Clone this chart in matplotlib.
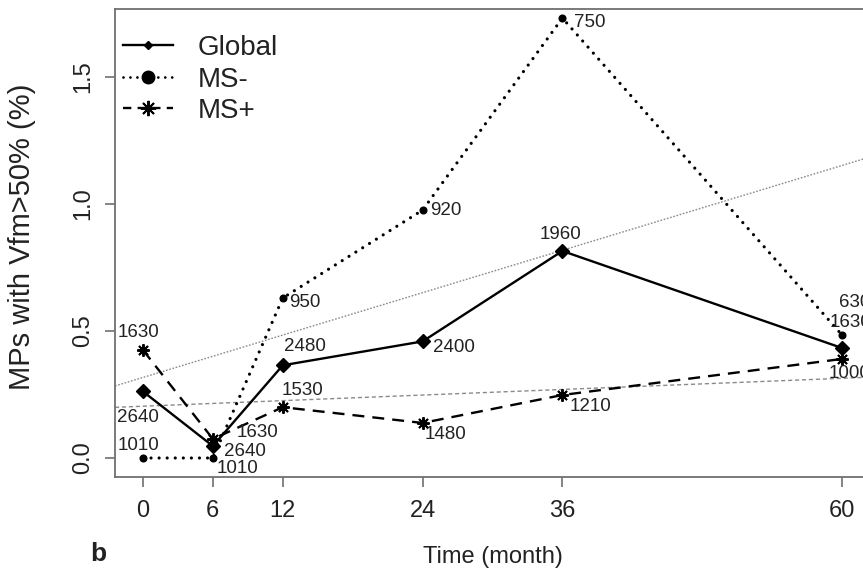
import numpy as np
import matplotlib
matplotlib.use("Agg")
import matplotlib.pyplot as plt
from matplotlib.lines import Line2D

plt.rcParams['font.family'] = ['Liberation Sans', 'DejaVu Sans']
plt.rcParams['lines.scale_dashes'] = False

# ---- data ----
months = [0, 6, 12, 24, 36, 60]
global_pct = [0.262, 0.047, 0.365, 0.459, 0.815, 0.433]
ms_minus_pct = [0.0, 0.0, 0.63, 0.976, 1.732, 0.484]
ms_plus_pct = [0.425, 0.075, 0.20, 0.138, 0.248, 0.39]
global_n = [2640, 2640, 2480, 2400, 1960, 1630]
ms_minus_n = [1010, 1010, 950, 920, 750, 630]
ms_plus_n = [1630, 1630, 1530, 1480, 1210, 1000]
xticks = [0, 6, 12, 24, 36, 60]
yticks = [0.0, 0.5, 1.0, 1.5]

# label offsets (pixels, right / up)
px = 0.72
off_minus = [(-4, 13), (25, -10), (22, -5), (23, 0), (27, -4), (13, 33)]
off_global = [(-5, -26), (32, -5), (22, 19), (31, -6), (-2, 16), (8, 26)]
off_plus = [(-4, 18), (45, 6), (20, 17), (23, -12), (28, -11), (8, -15)]

fig = plt.figure(figsize=(8.63, 5.69), dpi=100)
ax = fig.add_axes([115/863, 92/569, 755/863, 468/569])
ax.set_xlim(-2.4, 62.4)
ax.set_ylim(-0.0748, 1.7677)

txtc = '#222222'
spc = '#707070'

# regression lines
b1, a1 = np.polyfit(months, ms_minus_pct, 1)
b2, a2 = np.polyfit(months, ms_plus_pct, 1)
ax.axline((0, a1), slope=b1, color='#8a8a8a', lw=1.0, linestyle=(0, (1.2, 1.2)), zorder=1)
ax.axline((0, a2), slope=b2, color='#8a8a8a', lw=1.0, linestyle=(0, (3.0, 2.0)), zorder=1)

ax.plot(months, ms_minus_pct, color='black', lw=2.3, linestyle=(0, (0.01, 5.8)),
        dash_capstyle='round', marker='o', ms=4.8, zorder=3)
ax.plot(months, ms_plus_pct, color='black', lw=1.7, linestyle=(0, (8.6, 5.8)),
        marker=(8, 2, 0), ms=9, mew=1.4, zorder=3)
ax.plot(months, global_pct, color='black', lw=1.7, linestyle='-',
        marker='D', ms=7, zorder=4)

fs_lab = 13.5
for xs, ys, ns, offs in [(months, ms_minus_pct, ms_minus_n, off_minus),
                         (months, global_pct, global_n, off_global),
                         (months, ms_plus_pct, ms_plus_n, off_plus)]:
    for x, y, n, (dx, dy) in zip(xs, ys, ns, offs):
        ax.annotate(str(n), (x, y), xytext=(dx*px, dy*px), textcoords='offset points',
                    ha='center', va='center', fontsize=fs_lab, color=txtc, zorder=5,
                    annotation_clip=False)

for s in ['left', 'bottom', 'top', 'right']:
    ax.spines[s].set_color(spc)
    ax.spines[s].set_linewidth(1.3)

ax.set_xticks(xticks)
ax.set_xticklabels([str(t) for t in xticks])
ax.set_yticks(yticks)
ax.set_yticklabels([f"{t:.1f}" for t in yticks])
ax.tick_params(axis='both', direction='out', length=7.2, width=1.2, color=spc,
               labelsize=17, labelcolor=txtc)
ax.tick_params(axis='x', pad=9.5)
ax.tick_params(axis='y', pad=8, labelrotation=90)
for lbl in ax.get_yticklabels():
    lbl.set_va('center')

ax.set_xlabel('Time (month)', fontsize=17, color=txtc)
ax.xaxis.set_label_coords(0.5, (477-557)/468)
ax.xaxis.label.set_va('center')
ax.set_ylabel('MPs with Vfm>50% (%)', fontsize=21, color=txtc)
ax.yaxis.set_label_coords((22-115)/755, (477-236.5)/468)
ax.yaxis.label.set_va('center')

handles = [
    Line2D([], [], color='black', lw=1.7, marker='D', ms=4.5),
    Line2D([], [], color='black', lw=2.0, linestyle=(0, (0.01, 5.0)), dash_capstyle='round',
           marker='o', ms=9),
    Line2D([], [], color='black', lw=1.7, linestyle=(0, (6, 4.5)), marker=(8, 2, 0), ms=11, mew=1.4),
]
leg = ax.legend(handles, ['Global', 'MS-', 'MS+'], loc='upper left',
                bbox_to_anchor=((123-115)/755, (477-35)/468), frameon=False,
                fontsize=20, handlelength=1.8, handletextpad=0.9, labelspacing=0.2,
                borderaxespad=0, borderpad=0)
for t in leg.get_texts():
    t.set_color(txtc)

fig.text(90/863, (569-554)/569, 'b', fontsize=19, fontweight='bold', color=txtc,
         ha='left', va='center')

fig.savefig('out.png', dpi=100)
